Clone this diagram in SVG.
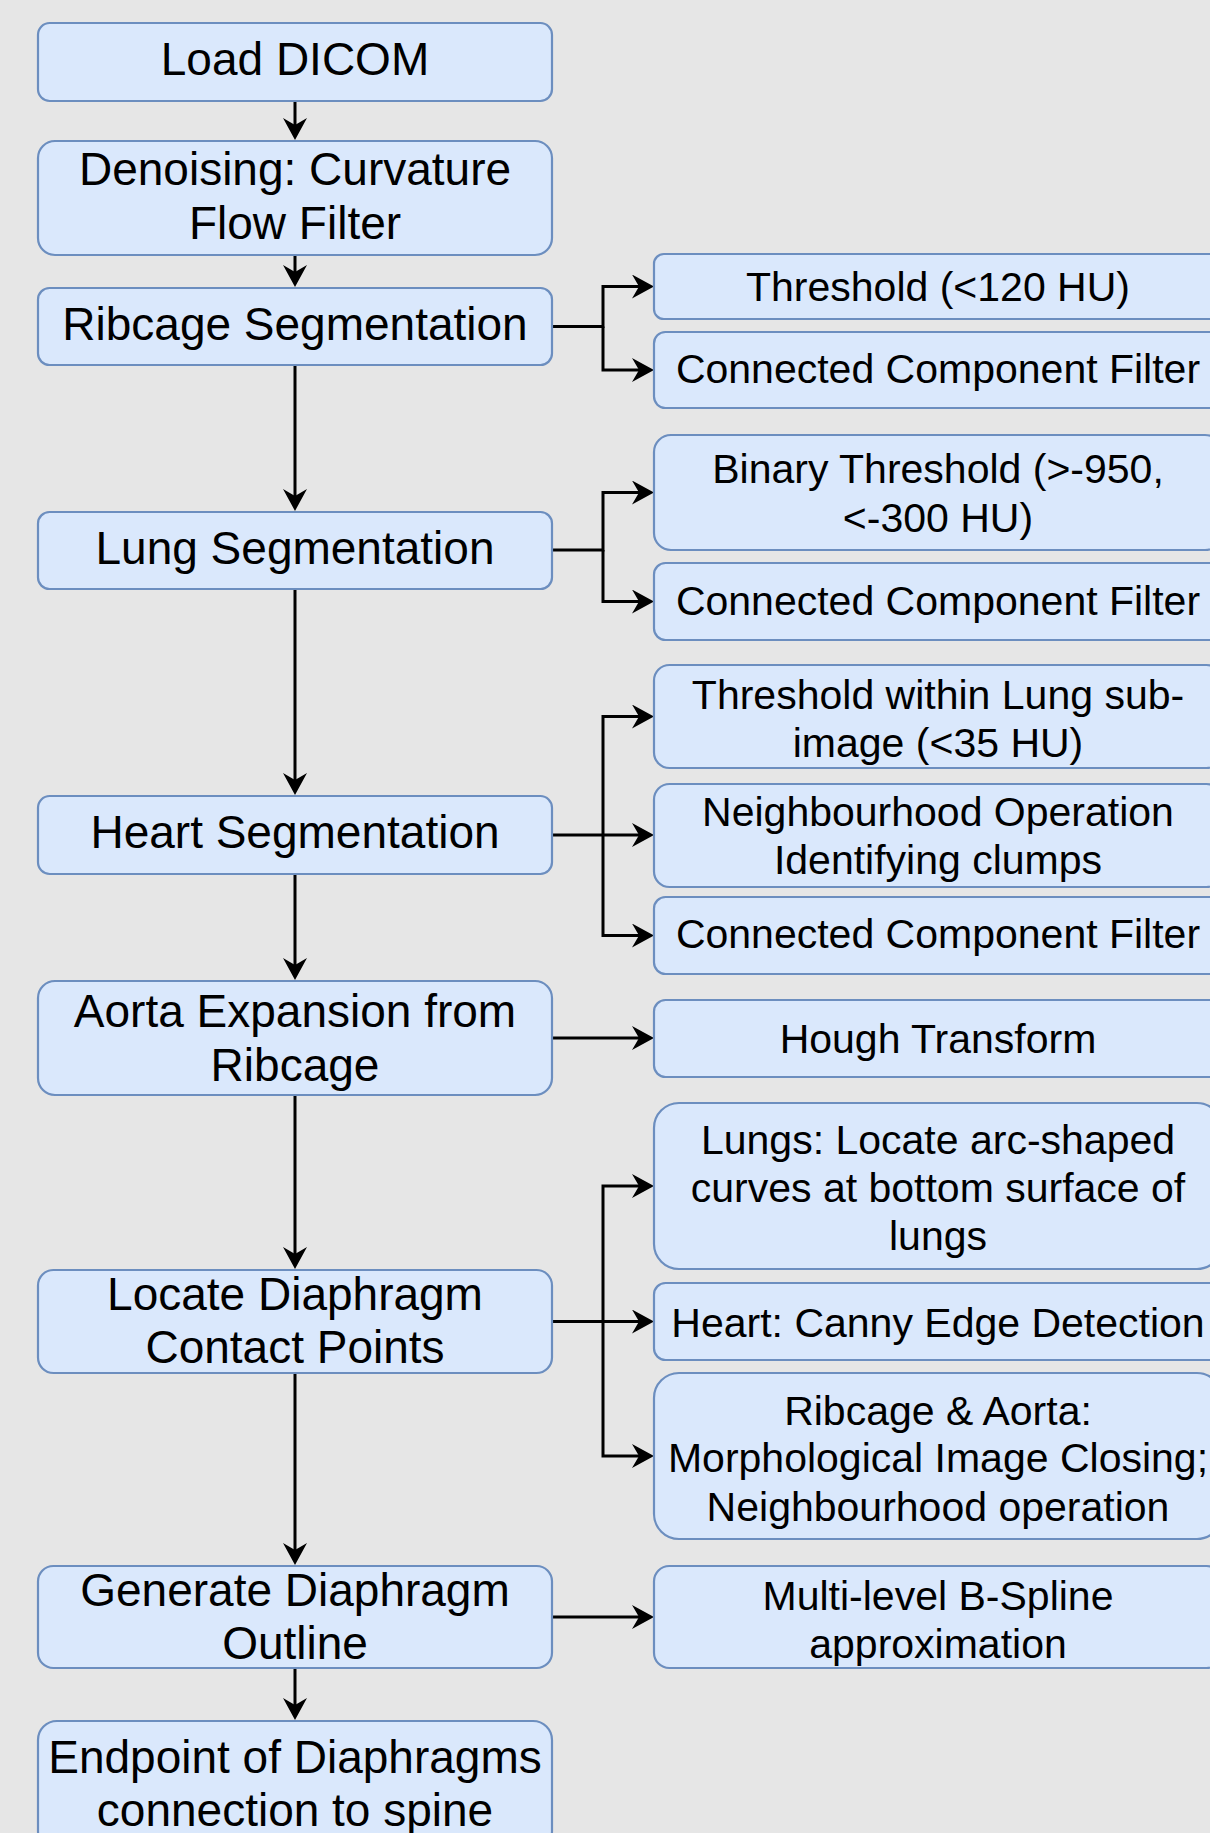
<svg xmlns="http://www.w3.org/2000/svg" width="1210" height="1833" viewBox="0 0 1210 1833">
<style>
.box{fill:#dae8fc;stroke:#6c8ebf;stroke-width:2.2}
.tl{font-family:"Liberation Sans",Arial,sans-serif;font-size:46px;fill:#000;text-anchor:middle}
.tr{font-family:"Liberation Sans",Arial,sans-serif;font-size:41px;fill:#000;text-anchor:middle}
.c{fill:none;stroke:#000;stroke-width:3}
</style>
<defs>
<marker id="arr" viewBox="0 0 22 24" markerWidth="22" markerHeight="24" refX="15" refY="12" orient="auto" markerUnits="userSpaceOnUse">
<path d="M0,0 L22,12 L0,24 L7,12 Z" fill="#000"/>
</marker>
</defs>
<rect x="0" y="0" width="1210" height="1833" fill="#e6e6e6"/>
<g id="connectors">
<path class="c" d="M295,101 V133" marker-end="url(#arr)"/>
<path class="c" d="M295,255 V280" marker-end="url(#arr)"/>
<path class="c" d="M295,365 V504" marker-end="url(#arr)"/>
<path class="c" d="M295,589 V788" marker-end="url(#arr)"/>
<path class="c" d="M295,874 V973" marker-end="url(#arr)"/>
<path class="c" d="M295,1095 V1262" marker-end="url(#arr)"/>
<path class="c" d="M295,1373 V1558" marker-end="url(#arr)"/>
<path class="c" d="M295,1668 V1713" marker-end="url(#arr)"/>
<path class="c" d="M552,326.5 H603 V286.5 H647" marker-end="url(#arr)"/>
<path class="c" d="M603,326.5 V370 H647" marker-end="url(#arr)"/>
<path class="c" d="M552,550 H603 V492.5 H647" marker-end="url(#arr)"/>
<path class="c" d="M603,550 V601.5 H647" marker-end="url(#arr)"/>
<path class="c" d="M552,835 H647" marker-end="url(#arr)"/>
<path class="c" d="M603,835 V716.5 H647" marker-end="url(#arr)"/>
<path class="c" d="M603,835 V935.5 H647" marker-end="url(#arr)"/>
<path class="c" d="M552,1038 H647" marker-end="url(#arr)"/>
<path class="c" d="M552,1321.5 H647" marker-end="url(#arr)"/>
<path class="c" d="M603,1321.5 V1186 H647" marker-end="url(#arr)"/>
<path class="c" d="M603,1321.5 V1456 H647" marker-end="url(#arr)"/>
<path class="c" d="M552,1617 H647" marker-end="url(#arr)"/>
</g>
<g id="load-dicom"><rect class="box" x="38" y="23" width="514" height="78" rx="11.7"/><text class="tl" x="295" y="75">Load DICOM</text></g>
<g id="denoising"><rect class="box" x="38" y="141" width="514" height="114" rx="17"/><text class="tl" x="295" y="185">Denoising: Curvature</text><text class="tl" x="295" y="239">Flow Filter</text></g>
<g id="ribcage-seg"><rect class="box" x="38" y="288" width="514" height="77" rx="11.5"/><text class="tl" x="295" y="340">Ribcage Segmentation</text></g>
<g id="lung-seg"><rect class="box" x="38" y="512" width="514" height="77" rx="11.5"/><text class="tl" x="295" y="564">Lung Segmentation</text></g>
<g id="heart-seg"><rect class="box" x="38" y="796" width="514" height="78" rx="11.7"/><text class="tl" x="295" y="848">Heart Segmentation</text></g>
<g id="aorta"><rect class="box" x="38" y="981" width="514" height="114" rx="17"/><text class="tl" x="295" y="1027">Aorta Expansion from</text><text class="tl" x="295" y="1081">Ribcage</text></g>
<g id="locate"><rect class="box" x="38" y="1270" width="514" height="103" rx="15.5"/><text class="tl" x="295" y="1310">Locate Diaphragm</text><text class="tl" x="295" y="1363">Contact Points</text></g>
<g id="generate"><rect class="box" x="38" y="1566" width="514" height="102" rx="15.3"/><text class="tl" x="295" y="1606">Generate Diaphragm</text><text class="tl" x="295" y="1659">Outline</text></g>
<g id="endpoint"><rect class="box" x="38" y="1721" width="514" height="129" rx="19"/><text class="tl" x="295" y="1773">Endpoint of Diaphragms</text><text class="tl" x="295" y="1826">connection to spine</text></g>
<g id="r-threshold120"><rect class="box" x="654" y="254" width="568" height="65" rx="9.8"/><text class="tr" x="938" y="301">Threshold (&lt;120 HU)</text></g>
<g id="r-ccf1"><rect class="box" x="654" y="332" width="568" height="76" rx="11.4"/><text class="tr" x="938" y="383">Connected Component Filter</text></g>
<g id="r-binary"><rect class="box" x="654" y="435" width="568" height="115" rx="17"/><text class="tr" x="938" y="483">Binary Threshold (&gt;-950,</text><text class="tr" x="938" y="532">&lt;-300 HU)</text></g>
<g id="r-ccf2"><rect class="box" x="654" y="563" width="568" height="77" rx="11.5"/><text class="tr" x="938" y="615">Connected Component Filter</text></g>
<g id="r-threshold35"><rect class="box" x="654" y="665" width="568" height="103" rx="15.5"/><text class="tr" x="938" y="709">Threshold within Lung sub-</text><text class="tr" x="938" y="757">image (&lt;35 HU)</text></g>
<g id="r-neighbour"><rect class="box" x="654" y="784" width="568" height="103" rx="15.5"/><text class="tr" x="938" y="826">Neighbourhood Operation</text><text class="tr" x="938" y="874">Identifying clumps</text></g>
<g id="r-ccf3"><rect class="box" x="654" y="897" width="568" height="77" rx="11.5"/><text class="tr" x="938" y="948">Connected Component Filter</text></g>
<g id="r-hough"><rect class="box" x="654" y="1000" width="568" height="77" rx="11.5"/><text class="tr" x="938" y="1053">Hough Transform</text></g>
<g id="r-lungs"><rect class="box" x="654" y="1103" width="568" height="166" rx="25"/><text class="tr" x="938" y="1154">Lungs: Locate arc-shaped</text><text class="tr" x="938" y="1202">curves at bottom surface of</text><text class="tr" x="938" y="1250">lungs</text></g>
<g id="r-canny"><rect class="box" x="654" y="1283" width="568" height="77" rx="11.5"/><text class="tr" x="938" y="1337">Heart: Canny Edge Detection</text></g>
<g id="r-ribaorta"><rect class="box" x="654" y="1373" width="568" height="166" rx="25"/><text class="tr" x="938" y="1425">Ribcage &amp; Aorta:</text><text class="tr" x="938" y="1472">Morphological Image Closing;</text><text class="tr" x="938" y="1521">Neighbourhood operation</text></g>
<g id="r-bspline"><rect class="box" x="654" y="1566" width="568" height="102" rx="15.3"/><text class="tr" x="938" y="1610">Multi-level B-Spline</text><text class="tr" x="938" y="1658">approximation</text></g>
</svg>
